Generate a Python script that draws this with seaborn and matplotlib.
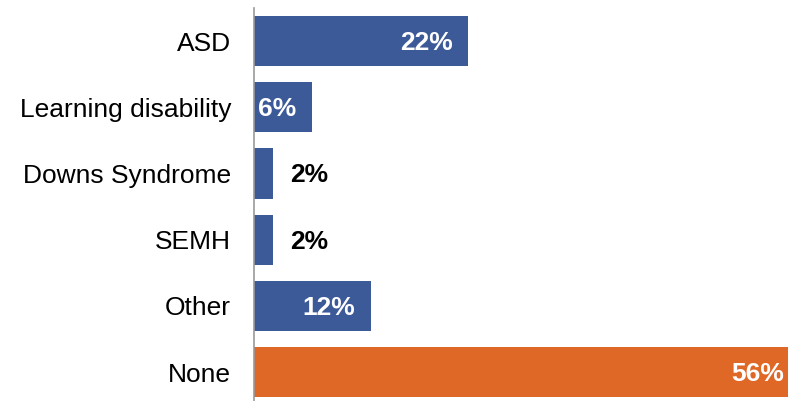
import matplotlib as mpl
import matplotlib.pyplot as plt
import seaborn as sns
import pandas as pd

mpl.use("Agg")

categories = ["ASD", "Learning disability", "Downs Syndrome", "SEMH", "Other", "None"]
values = [22, 6, 2, 2, 12, 56]
labels = ["22%", "6%", "2%", "2%", "12%", "56%"]

blue = "#3C5A98"
orange = "#E06826"

sns.set_style("white")
plt.rcParams["font.family"] = ["Liberation Sans", "DejaVu Sans"]

df = pd.DataFrame({"cat": categories, "val": values})
colors = [blue] * 5 + [orange]

fig = plt.figure(figsize=(7.88, 4.01), dpi=100)
ax = fig.add_axes([254 / 788, 0, 534 / 788, 393 / 401])

sns.barplot(data=df, x="val", y="cat", hue="cat", palette=colors,
            legend=False, width=0.76, ax=ax, saturation=1, edgecolor="none")

# the longest bar runs off the right edge of the picture
ax.set_xlim(0, 54.8)
ax.set_ylim(5.437, -0.5)
ax.set_xlabel("")
ax.set_ylabel("")
ax.set_xticks([])
ax.tick_params(axis="y", length=0, pad=16.5, labelsize=19, labelcolor="black")
for side in ["top", "right", "bottom"]:
    ax.spines[side].set_visible(False)
ax.spines["left"].set_color("#999999")
ax.spines["left"].set_linewidth(1.2)

# value labels: inside end in white, or outside in black for the small bars
for i, (v, txt) in enumerate(zip(values, labels)):
    if v >= 5:
        ax.annotate(txt, xy=(v, i), xytext=(-16, -2), textcoords="offset pixels",
                    ha="right", va="center", color="white", fontsize=19,
                    fontweight="bold", annotation_clip=False)
    else:
        ax.annotate(txt, xy=(v, i), xytext=(17, -2), textcoords="offset pixels",
                    ha="left", va="center", color="black", fontsize=19,
                    fontweight="bold", annotation_clip=False)

fig.savefig("out.png", dpi=100)
